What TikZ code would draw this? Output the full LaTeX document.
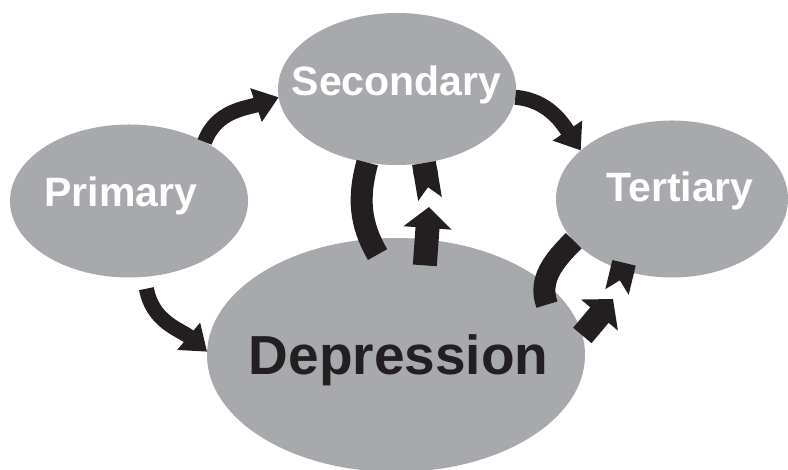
\documentclass[tikz,border=0pt]{standalone}
\usepackage{fontspec}
\setmainfont{Liberation Sans}
\usetikzlibrary{positioning, shapes.geometric, arrows.meta}
\definecolor{bubblegray}{HTML}{A7A9AC}
\definecolor{inkblack}{HTML}{231F20}

\begin{document}
\begin{tikzpicture}
  [x=0.5pt,y=0.5pt,
   bubble/.style={ellipse,fill=bubblegray,inner sep=0pt,outer sep=0pt},
   bubbletext/.style={anchor=base,text=white,font=\bfseries\fontsize{20.5}{24}\selectfont},
   bigtext/.style={anchor=base,text=inkblack,font=\bfseries\fontsize{27.5}{32}\selectfont},
   thinarrow/.style={draw=inkblack,line width=7.5pt,-{Triangle[width=17pt,length=12pt]}},
   thickarrow/.style={draw=inkblack,line width=12pt,-{Triangle[width=23.5pt,length=10.5pt]}},
   band/.style={draw=inkblack,line width=11pt},
   notched/.style={draw=inkblack,line width=12pt,-{Triangle Cap[reversed]}}]
  \useasboundingbox (0,0) rectangle (788,470);
  \node (secondary) at (397,381) [bubble,minimum width=119pt,minimum height=76pt] {};
  \node (primary) at (129,269) [bubble,minimum width=119pt,minimum height=76.5pt] {};
  \node (tertiary) at (672,271) [bubble,minimum width=116pt,minimum height=78.5pt] {};
  \node (depression) at (396,115) [bubble,minimum width=189pt,minimum height=117pt] {};
  \node (secondarytext) at (396.5,374) [bubbletext] {Secondary};
  \node (primarytext) at (121,263) [bubbletext] {Primary};
  \node (tertiarytext) at (680,268) [bubbletext] {Tertiary};
  \node (depressiontext) at (398.5,95) [bigtext] {Depression};
  % outer arrows
  \draw [thinarrow] (primary.38) to [out=70,in=199] (secondary.184);
  \draw [thinarrow] (secondary.-4) to [out=-5,in=124] (tertiary.152);
  \draw [thinarrow] ([yshift=-6pt]primary.-77) to [out=-80,in=140] (depression.179);
  % loop between depression and secondary
  \coordinate (midnotch) at (430,271);
  \coordinate (midtip) at (429,263);
  \draw [band] ([yshift=-8pt]depression.99) to [out=120,in=255] (secondary.248);
  \draw [notched] (secondary.290) -- (midnotch);
  \draw [thickarrow] ([yshift=-13pt]depression.76) -- (midtip);
  % loop between depression and tertiary
  \coordinate (rightnotch) at (617,178);
  \coordinate (righttip) at (613,171);
  \draw [band] (tertiary.203) to [out=225,in=110] ([yshift=-10pt]depression.25);
  \draw [notched] (tertiary.235) -- (rightnotch);
  \draw [thickarrow] (depression.6) -- (righttip);
\end{tikzpicture}
\end{document}
